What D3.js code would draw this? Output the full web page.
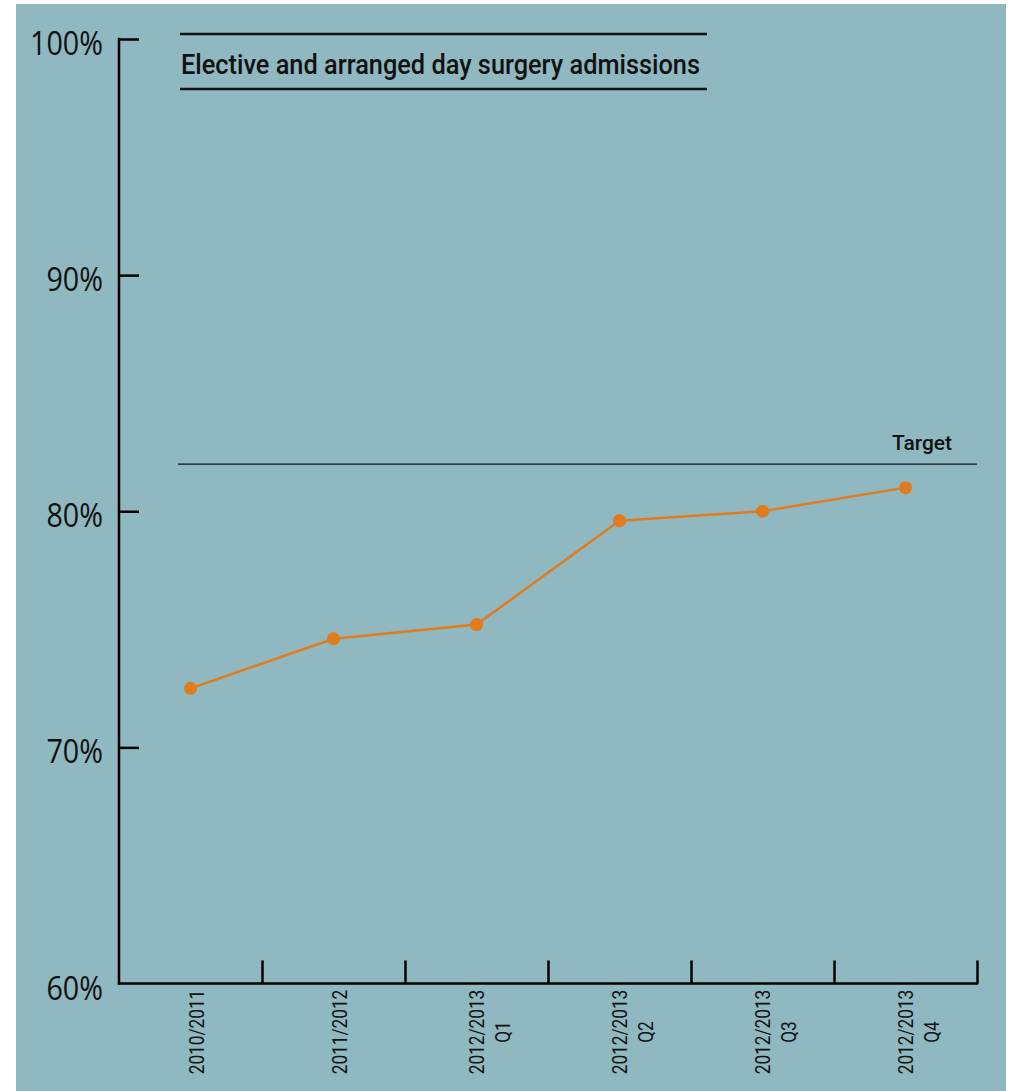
<!DOCTYPE html>
<html>
<head>
<meta charset="utf-8">
<script src="https://cdn.jsdelivr.net/npm/d3@7"></script>
<style>
  html, body { margin: 0; padding: 0; background: #ffffff; }
  svg { display: block; }
</style>
</head>
<body>
<svg id="chart" width="1011" height="1091"></svg>
<script>
// ---- data ----
const categories = ["2010/2011", "2011/2012", "2012/2013|Q1", "2012/2013|Q2", "2012/2013|Q3", "2012/2013|Q4"];
const values = [72.5, 74.6, 75.2, 79.6, 80.0, 81.0];
const targetValue = 82;
const yTicks = [60, 70, 80, 90, 100];
const yTickLabels = ["60%", "70%", "80%", "90%", "100%"];
const title = "Elective and arranged day surgery admissions";
const targetLabel = "Target";

const svg = d3.select("#chart");
const bg = "#8fb8c0";
const orange = "#e07b1e";
const ink = "#111";

// compress text horizontally to mimic a condensed face
function condense(sel, factor) {
  sel.each(function () {
    const w = this.getComputedTextLength();
    d3.select(this).attr("textLength", w * factor).attr("lengthAdjust", "spacingAndGlyphs");
  });
}

svg.append("rect").attr("x", 16).attr("y", 4).attr("width", 990).attr("height", 1087).attr("fill", bg);

const x = d3.scaleBand().domain(categories).range([119, 977]).padding(0);
const y = d3.scaleLinear().domain([60, 100]).range([983.5, 39]);

// y axis
const yAxis = d3.axisRight(y).tickValues(yTicks.slice(1)).tickSize(20).tickFormat("");
const gy = svg.append("g").attr("transform", "translate(119,0)").call(yAxis);
gy.select(".domain").remove();
gy.selectAll(".tick line").attr("stroke", "#000").attr("stroke-width", 2.5);
svg.append("line").attr("x1", 119).attr("x2", 119).attr("y1", y(100) - 1.2).attr("y2", y(60) + 1.2)
  .attr("stroke", "#000").attr("stroke-width", 2.5);

// y labels
const yl = svg.append("g").selectAll("text").data(yTicks).join("text")
  .attr("x", 103).attr("y", d => y(d) + 16)
  .attr("text-anchor", "end")
  .attr("font-family", "'Open Sans', sans-serif")
  .attr("font-size", 33).attr("fill", ink)
  .text((d, i) => yTickLabels[i]);
condense(yl, 0.87);

// x axis
const xBoundaries = categories.map(c => x(c) + x.bandwidth());
const xAxisScale = d3.scaleLinear().domain([119, 977]).range([119, 977]);
const xAxis = d3.axisTop(xAxisScale).tickValues(xBoundaries).tickSize(23).tickFormat("");
const gx = svg.append("g").attr("transform", `translate(0,${y(60)})`).call(xAxis);
gx.select(".domain").remove();
gx.selectAll(".tick line").attr("stroke", "#000").attr("stroke-width", 2.5);
svg.append("line").attr("x1", 119 - 1.2).attr("x2", 977 + 1.2).attr("y1", y(60)).attr("y2", y(60))
  .attr("stroke", "#000").attr("stroke-width", 2.5);

// x labels (rotated)
const xl = svg.append("g").selectAll("g").data(categories).join("g")
  .attr("transform", d => `translate(${x(d) + x.bandwidth() / 2},1032) rotate(-90)`);
xl.each(function (d) {
  const parts = d.split("|");
  const g = d3.select(this);
  const offs = parts.length === 1 ? [13] : [7, 33];
  parts.forEach((p, i) => {
    g.append("text").attr("x", 0).attr("y", offs[i])
      .attr("text-anchor", "middle")
      .attr("font-family", "Roboto, sans-serif")
      .attr("font-size", 21).attr("fill", ink)
      .text(p);
  });
});
condense(xl.selectAll("text"), 0.82);

// title
svg.append("line").attr("x1", 180).attr("x2", 707).attr("y1", 34).attr("y2", 34).attr("stroke", ink).attr("stroke-width", 2.5);
svg.append("line").attr("x1", 180).attr("x2", 707).attr("y1", 89).attr("y2", 89).attr("stroke", ink).attr("stroke-width", 2.5);
svg.append("text").attr("x", 181).attr("y", 74)
  .attr("font-family", "Roboto, sans-serif").attr("font-weight", 500)
  .attr("font-size", 27).attr("fill", ink)
  .attr("textLength", 519).attr("lengthAdjust", "spacingAndGlyphs")
  .text(title);

// target
svg.append("line").attr("x1", 178).attr("x2", 977).attr("y1", y(targetValue)).attr("y2", y(targetValue))
  .attr("stroke", ink).attr("stroke-width", 1.2);
svg.append("text").attr("x", 952).attr("y", y(targetValue) - 14).attr("text-anchor", "end")
  .attr("font-family", "Roboto, sans-serif").attr("font-weight", 500)
  .attr("font-size", 21).attr("fill", ink)
  .attr("textLength", 60).attr("lengthAdjust", "spacingAndGlyphs")
  .text(targetLabel);

// series
const pts = categories.map((c, i) => [x(c) + x.bandwidth() / 2, y(values[i])]);
svg.append("path").attr("d", d3.line()(pts)).attr("fill", "none").attr("stroke", orange).attr("stroke-width", 2.5);
svg.append("g").selectAll("circle").data(pts).join("circle")
  .attr("cx", d => d[0]).attr("cy", d => d[1]).attr("r", 6.5).attr("fill", orange);
</script>
</body>
</html>
